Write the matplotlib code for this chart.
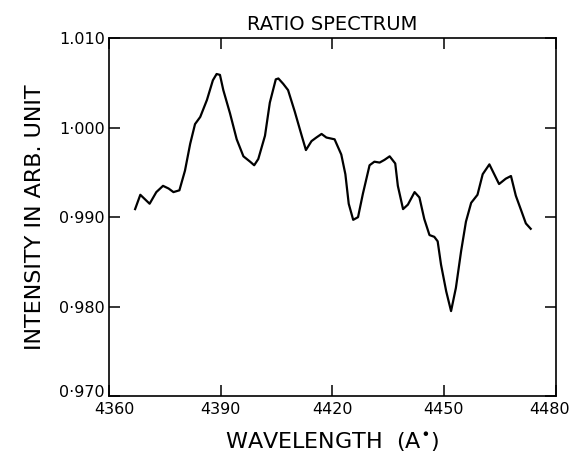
import matplotlib
matplotlib.use("Agg")
import matplotlib.pyplot as plt
from matplotlib.transforms import ScaledTranslation

# ratio spectrum
wavelength = [4367.0, 4368.4, 4370.9, 4372.7, 4374.5, 4376.0, 4377.3, 4378.9,
              4380.4, 4381.8, 4383.1, 4384.5, 4386.3, 4387.9, 4388.9, 4389.8,
              4390.7, 4392.5, 4394.3, 4396.1, 4397.9, 4399.0, 4400.1, 4401.9,
              4403.2, 4404.8, 4405.5, 4406.8, 4408.1, 4409.9, 4411.7, 4412.9,
              4414.4, 4415.7, 4417.1, 4418.4, 4420.6, 4422.4, 4423.5, 4424.4,
              4425.6, 4426.9, 4428.2, 4430.0, 4431.3, 4432.7, 4434.0, 4435.4,
              4436.9, 4437.6, 4439.0, 4440.3, 4442.1, 4443.4, 4444.7, 4446.1,
              4447.4, 4448.3, 4449.2, 4450.6, 4451.9, 4453.2, 4454.6, 4455.9,
              4457.3, 4459.0, 4460.4, 4462.2, 4463.5, 4464.8, 4466.6, 4468.0,
              4469.3, 4470.7, 4472.0, 4473.3]
intensity = [0.9909, 0.9925, 0.9915, 0.9928, 0.9935, 0.9932, 0.9928, 0.9930,
             0.9952, 0.9982, 1.0004, 1.0012, 1.0031, 1.0053, 1.0060, 1.0059,
             1.0042, 1.0016, 0.9987, 0.9968, 0.9962, 0.9958, 0.9965, 0.9991,
             1.0028, 1.0054, 1.0055, 1.0049, 1.0042, 1.0018, 0.9992, 0.9975,
             0.9985, 0.9989, 0.9993, 0.9989, 0.9987, 0.9970, 0.9948, 0.9915,
             0.9897, 0.9900, 0.9926, 0.9958, 0.9962, 0.9961, 0.9964, 0.9968,
             0.9960, 0.9935, 0.9909, 0.9914, 0.9928, 0.9922, 0.9898, 0.9880,
             0.9878, 0.9873, 0.9847, 0.9817, 0.9795, 0.9821, 0.9862, 0.9895,
             0.9916, 0.9925, 0.9948, 0.9959, 0.9948, 0.9937, 0.9943, 0.9946,
             0.9924, 0.9908, 0.9893, 0.9887]

xticks = [4360, 4390, 4420, 4450, 4480]
yticks = [0.970, 0.980, 0.990, 1.000, 1.010]
ytick_labels = ["0·970", "0·980", "0·990", "1·000", "1.010"]

fig = plt.figure(figsize=(5.74, 4.66), dpi=100)
ax = fig.add_axes([0.19, 0.150, 0.778, 0.768])

ax.plot(wavelength, intensity, color="black", linewidth=1.6)

ax.set_xlim(4360, 4480)
ax.set_ylim(0.970, 1.010)
ax.set_xticks(xticks)
ax.set_yticks(yticks)
ax.set_yticklabels(ytick_labels)
ax.tick_params(direction="in", length=8, width=1.1, labelsize=11.5,
               top=True, right=True, pad=3)
ax.tick_params(axis="x", pad=4)
for s in ax.spines.values():
    s.set_linewidth(1.2)

# nudge crowded corner labels like in the original
xl = ax.get_xticklabels()
xl[-1].set_transform(xl[-1].get_transform() + ScaledTranslation(-0.06, 0, fig.dpi_scale_trans))
xl[0].set_transform(xl[0].get_transform() + ScaledTranslation(0.05, 0, fig.dpi_scale_trans))
yl = ax.get_yticklabels()
yl[0].set_transform(yl[0].get_transform() + ScaledTranslation(0, 0.05, fig.dpi_scale_trans))

ax.set_title("RATIO SPECTRUM", fontsize=14, pad=6)
ax.set_xlabel("WAVELENGTH  (A$^{\\bullet}$)", fontsize=16, labelpad=10)
ax.set_ylabel("INTENSITY IN ARB. UNIT", fontsize=16, labelpad=10)

fig.savefig("out.png", dpi=100)
